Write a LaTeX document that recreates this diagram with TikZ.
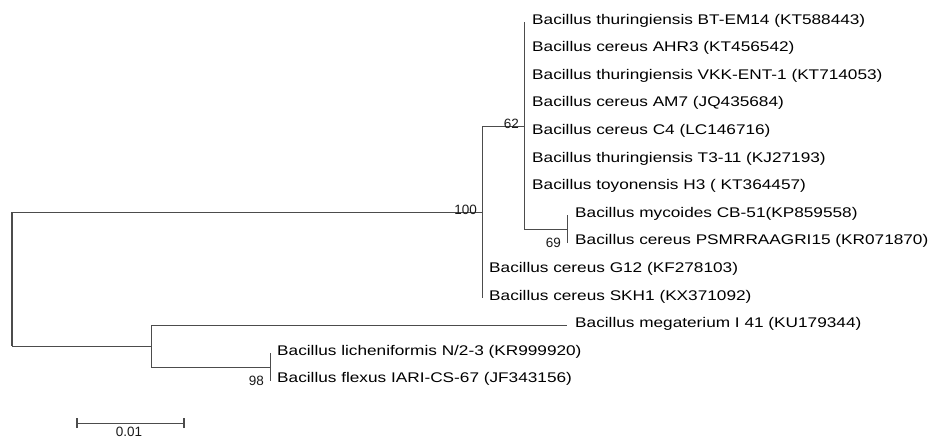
\documentclass[tikz,border=0pt]{standalone}
\usepackage{fontspec}
\setmainfont{Liberation Sans}
\newcommand\stretchlbl[1]{\scalebox{1.23}[1]{#1}}
\begin{document}
\begin{tikzpicture}[x=1pt,y=-1pt,
  br/.style={draw=black!70, line width=0.9pt},
  leaf/.style={anchor=west, inner sep=0pt, font=\fontsize{14}{16}\selectfont, text=black},
  supp/.style={inner sep=0pt, font=\fontsize{13.5}{16}\selectfont, text=black!90}]
\useasboundingbox (0,0) rectangle (946,439);
% internal nodes
\coordinate (root) at (12,279.2);
\coordinate (n100) at (482,212);
\coordinate (nB) at (151,346.3);
\coordinate (n62) at (524,126);
\coordinate (n69) at (567,229);
\coordinate (n98) at (270,367);
% leaves
\coordinate (l0) at (524,22);
\coordinate (l1) at (524,49.6);
\coordinate (l2) at (524,77.2);
\coordinate (l3) at (524,104.8);
\coordinate (l4) at (524,132.4);
\coordinate (l5) at (524,160);
\coordinate (l6) at (524,187.6);
\coordinate (l7) at (567,215.2);
\coordinate (l8) at (567,242.8);
\coordinate (l9) at (482,270.4);
\coordinate (l10) at (482,298);
\coordinate (l11) at (567,325.6);
\coordinate (l12) at (270,353.2);
\coordinate (l13) at (270,380.8);
% branches
\draw[br] (root) |- (n100);
\draw[br] (root) |- (nB);
\draw[br, line width=1.8pt] (root |- n100) -- (root |- nB);
\draw[br] (n100) |- (n62);
\draw[br] (n100) |- (l9);
\draw[br] (n100) |- (l10);
\foreach \i in {0,...,6} {\draw[br] (n62) |- (l\i);}
\draw[br] (n62) |- (n69);
\draw[br] (n69) |- (l7);
\draw[br] (n69) |- (l8);
\draw[br] (nB) |- (l11);
\draw[br] (nB) |- (n98);
\draw[br] (n98) |- (l12);
\draw[br] (n98) |- (l13);
% leaf labels
\node[leaf] (t0) at ([xshift=8,yshift=1.5]l0) {\stretchlbl{Bacillus thuringiensis BT-EM14 (KT588443)}};
\node[leaf] (t1) at ([xshift=8,yshift=1.5]l1) {\stretchlbl{Bacillus cereus AHR3 (KT456542)}};
\node[leaf] (t2) at ([xshift=8,yshift=1.5]l2) {\stretchlbl{Bacillus thuringiensis VKK-ENT-1 (KT714053)}};
\node[leaf] (t3) at ([xshift=8,yshift=1.5]l3) {\stretchlbl{Bacillus cereus AM7 (JQ435684)}};
\node[leaf] (t4) at ([xshift=8,yshift=1.5]l4) {\stretchlbl{Bacillus cereus C4 (LC146716)}};
\node[leaf] (t5) at ([xshift=8,yshift=1.5]l5) {\stretchlbl{Bacillus thuringiensis T3-11 (KJ27193)}};
\node[leaf] (t6) at ([xshift=8,yshift=1.5]l6) {\stretchlbl{Bacillus toyonensis H3 ( KT364457)}};
\node[leaf] (t7) at ([xshift=8,yshift=1.5]l7) {\stretchlbl{Bacillus mycoides CB-51(KP859558)}};
\node[leaf] (t8) at ([xshift=8,yshift=1.5]l8) {\stretchlbl{Bacillus cereus PSMRRAAGRI15 (KR071870)}};
\node[leaf] (t9) at ([xshift=7,yshift=1.5]l9) {\stretchlbl{Bacillus cereus G12 (KF278103)}};
\node[leaf] (t10) at ([xshift=7,yshift=1.5]l10) {\stretchlbl{Bacillus cereus SKH1 (KX371092)}};
\node[leaf] (t11) at ([xshift=8,yshift=1.5]l11) {\stretchlbl{Bacillus megaterium I 41 (KU179344)}};
\node[leaf] (t12) at ([xshift=7,yshift=1.5]l12) {\stretchlbl{Bacillus licheniformis N/2-3 (KR999920)}};
\node[leaf] (t13) at ([xshift=7,yshift=1.5]l13) {\stretchlbl{Bacillus flexus IARI-CS-67 (JF343156)}};
% support values
\node[supp, anchor=south east] (s100) at ([xshift=-5,yshift=-3]n100) {100};
\node[supp, anchor=south east] (s62) at ([xshift=-5,yshift=-3]n62) {62};
\node[supp, anchor=east] (s69) at ([xshift=-6]l8) {69};
\node[supp, anchor=east] (s98) at ([xshift=-6]l13) {98};
% scale bar
\coordinate (sb1) at (77,423);
\coordinate (sb2) at (184,423);
\draw[br] (sb1) -- (sb2);
\draw[br, line width=1.4pt] ([yshift=-5]sb1) -- ([yshift=5]sb1);
\draw[br, line width=1.4pt] ([yshift=-5]sb2) -- ([yshift=5]sb2);
\node[supp] (sbl) at (129,432) {0.01};
\end{tikzpicture}
\end{document}
